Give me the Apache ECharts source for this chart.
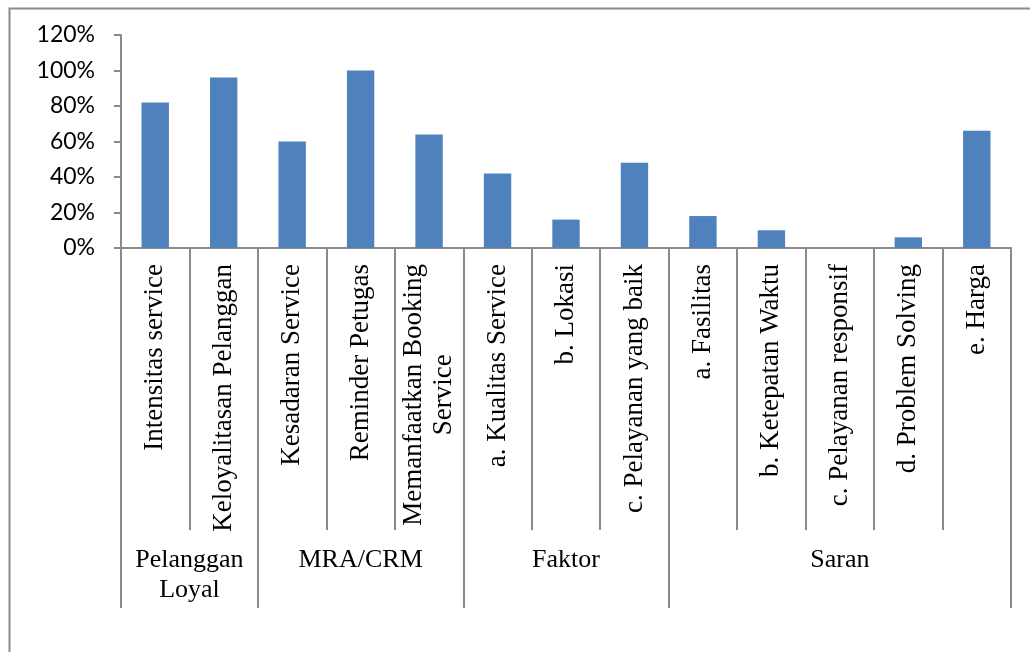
<!DOCTYPE html>
<html>
<head>
<meta charset="utf-8">
<script src="https://cdn.jsdelivr.net/npm/echarts@6/dist/echarts.min.js"></script>
<style>
  html, body { margin: 0; padding: 0; background: #ffffff; }
  #chart { width: 1030px; height: 652px; }
</style>
</head>
<body>
<div id="chart"></div>
<script>
// Items asked in the survey (second line of a label after "\n")
const categories = [
  'Intensitas service',
  'Keloyalitasan Pelanggan',
  'Kesadaran Service',
  'Reminder Petugas',
  'Memanfaatkan Booking\nService',
  'a. Kualitas Service',
  'b. Lokasi',
  'c. Pelayanan yang baik',
  'a. Fasilitas',
  'b. Ketepatan Waktu',
  'c. Pelayanan responsif',
  'd. Problem Solving',
  'e. Harga'
];
// Percentage of respondents per item
const values = [82, 96, 60, 100, 64, 42, 16, 48, 18, 10, 0, 6, 66];
// Item groups and how many items each one covers
const groupNames = ['Pelanggan\nLoyal', 'MRA/CRM', 'Faktor', 'Saran'];
const groupSizes = [2, 3, 3, 5];
// Value axis ticks
const yTicks = [0, 20, 40, 60, 80, 100, 120];

const lineColor = '#8a8a8a';
const serif = '"Liberation Serif", "Times New Roman", serif';

// Group boundaries and centres, in units of categories
const groupEdges = [0];
groupSizes.forEach(n => groupEdges.push(groupEdges[groupEdges.length - 1] + n));
const groupCentres = groupSizes.map((n, i) => groupEdges[i] + n / 2);

const chart = echarts.init(document.getElementById('chart'), null, { renderer: 'canvas' });

chart.setOption({
  animation: false,
  backgroundColor: '#ffffff',
  graphic: [{
    type: 'rect',
    left: 7, top: 6,
    shape: { x: 0, y: 0, width: 1100, height: 700 },
    style: { fill: 'none', stroke: lineColor, lineWidth: 2 },
    silent: true
  }],
  grid: { left: 121, right: 19, top: 35, bottom: 404, containLabel: false },
  xAxis: [{
    type: 'category',
    data: categories,
    position: 'bottom',
    axisLine: { show: true, lineStyle: { color: lineColor, width: 2 } },
    axisTick: { show: true, interval: 0, length: 282, lineStyle: { color: lineColor, width: 2 } },
    axisLabel: {
      interval: 0,
      rotate: 90,
      margin: 16,
      color: '#000',
      fontFamily: serif,
      fontSize: 27,
      formatter: v => v.split('\n').map(s => '{c|' + s + '}').join('\n'),
      rich: { c: { align: 'center', fontFamily: serif, fontSize: 27, lineHeight: 30, color: '#000' } }
    },
    splitLine: { show: false }
  }, {
    type: 'value',
    min: 0,
    max: categories.length,
    position: 'bottom',
    offset: 0,
    axisLine: { show: false },
    axisTick: {
      show: true,
      customValues: groupEdges,
      length: 360,
      lineStyle: { color: lineColor, width: 2 }
    },
    axisLabel: {
      show: true,
      customValues: groupCentres,
      margin: 297,
      color: '#000',
      fontFamily: serif,
      fontSize: 26,
      lineHeight: 30,
      align: 'center',
      formatter: v => {
        const i = groupCentres.findIndex(c => Math.abs(c - v) < 1e-6);
        return i >= 0 ? groupNames[i] : '';
      }
    },
    splitLine: { show: false }
  }],
  yAxis: {
    type: 'value',
    min: yTicks[0],
    max: yTicks[yTicks.length - 1],
    interval: yTicks[1] - yTicks[0],
    axisLine: { show: true, lineStyle: { color: lineColor, width: 2 } },
    axisTick: { show: true, length: 7, lineStyle: { color: lineColor, width: 2 } },
    axisLabel: {
      margin: 26,
      color: '#000',
      fontFamily: 'Lato, "Liberation Sans", sans-serif',
      fontSize: 23,
      formatter: v => v + '%'
    },
    splitLine: { show: false }
  },
  series: [{
    type: 'bar',
    xAxisIndex: 0,
    data: values,
    barWidth: '40%',
    itemStyle: { color: '#4f81bd' }
  }]
});
</script>
</body>
</html>
